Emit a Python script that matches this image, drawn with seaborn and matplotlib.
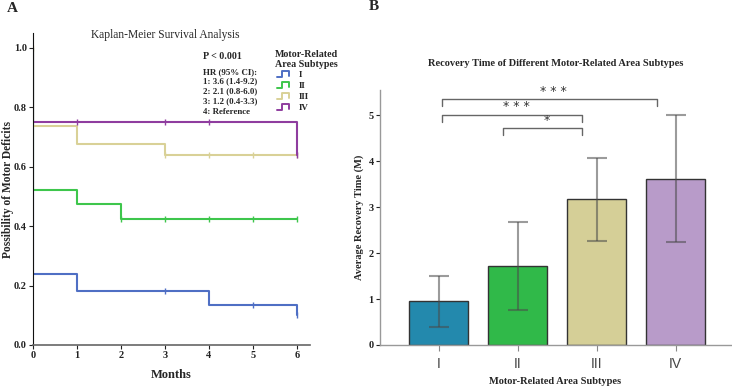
import numpy as np
import pandas as pd
import matplotlib
matplotlib.use("Agg")
import matplotlib.pyplot as plt
import seaborn as sns
from matplotlib.legend_handler import HandlerBase
from matplotlib.lines import Line2D

# Kaplan-Meier curves (step points) per subtype
km_groups = ["I", "II", "III", "IV"]
km_colors = ["#4f6fc4", "#3ec64c", "#d9d197", "#8f3d9f"]
km_times = {
    "I": [0, 0, 1, 4, 6],
    "II": [0, 0, 1, 2, 6],
    "III": [0, 0, 1, 3, 6],
    "IV": [0, 0, 6],
}
km_surv = {
    "I": [1.0, 0.24, 0.182, 0.136, 0.10],
    "II": [1.0, 0.52, 0.473, 0.425, 0.425],
    "III": [1.0, 0.737, 0.675, 0.641, 0.641],
    "IV": [1.0, 0.75, 0.641],
}
censor_times = {
    "I": [3, 5, 6],
    "II": [2, 3, 4, 5, 6],
    "III": [0, 3, 4, 5, 6],
    "IV": [1, 3, 4, 6],
}
censor_surv = {
    "I": [0.182, 0.136, 0.10],
    "II": [0.425, 0.425, 0.425, 0.425, 0.425],
    "III": [1.0, 0.641, 0.641, 0.641, 0.641],
    "IV": [0.75, 0.75, 0.75, 0.641],
}
hr_lines = ["HR (95% CI):", "1: 3.6 (1.4-9.2)", "2: 2.1 (0.8-6.0)",
            "3: 1.2 (0.4-3.3)", "4: Reference"]

# Recovery time per subtype
subtypes = ["I", "II", "III", "IV"]
recovery_mean = [0.95, 1.71, 3.17, 3.62]
recovery_low = [0.40, 0.77, 2.27, 2.25]
recovery_high = [1.51, 2.67, 4.08, 5.0]
bar_colors = ["#2389ad", "#30b949", "#d5cf97", "#b89bc9"]
# significance brackets: (x start, x end, height, label)
sig_pairs = [(0.05, 2.76, 5.35, "* * *"), (0.05, 1.81, 5.01, "* * *"), (0.82, 1.81, 4.72, "*")]

SERIF = "Liberation Serif"


class StepHandler(HandlerBase):
    def create_artists(self, legend, orig_handle, xdescent, ydescent,
                       width, height, fontsize, trans):
        xs = np.array([0.0, 0.4, 0.4, 0.9, 0.9]) * width - xdescent
        ys = np.array([0.05, 0.05, 0.95, 0.95, 0.2]) * height - ydescent
        line = Line2D(xs, ys, color=orig_handle.get_color(), lw=1.4)
        line.set_transform(trans)
        return [line]


sns.set_style("white")
plt.rcParams["font.family"] = [SERIF, "DejaVu Serif"]

fig = plt.figure(figsize=(7.32, 3.87), dpi=100)

# ---------------- Panel A ----------------
ax1 = fig.add_axes([33 / 732, 42 / 387, 277 / 732, 312 / 387])
handles = []
for grp, col in zip(km_groups, km_colors):
    df = pd.DataFrame({"t": km_times[grp], "s": km_surv[grp]})
    sns.lineplot(data=df, x="t", y="s", ax=ax1, color=col, lw=1.5,
                 drawstyle="steps-post", estimator=None, sort=False)
    cdf = pd.DataFrame({"t": censor_times[grp], "s": censor_surv[grp]})
    ax1.plot(cdf["t"], cdf["s"], ls="none", marker="|", ms=5, mew=1.0, color=col)
    handles.append(Line2D([], [], color=col))

ax1.set_xlim(0, 6.3)
ax1.set_ylim(0, 1.05)
ax1.set_xticks(range(7))
ax1.set_yticks([0, 0.2, 0.4, 0.6, 0.8, 1.0])
ax1.set_yticklabels(["0.0", "0.2", "0.4", "0.6", "0.8", "1.0"])
for lab in ax1.get_xticklabels() + ax1.get_yticklabels():
    lab.set_fontweight("bold")
ax1.tick_params(labelsize=7.5, length=3, width=0.8, pad=1.5, colors="#222")
ax1.tick_params(axis="both", which="both", bottom=True, left=True)
sns.despine(ax=ax1)
ax1.spines["left"].set_color("#111")
ax1.spines["bottom"].set_color("#666")
ax1.spines["bottom"].set_linewidth(1.2)
ax1.set_xlabel("Months", fontsize=9, fontweight="bold", labelpad=6)
ax1.set_ylabel("Possibility of Motor Deficits", fontsize=8.3, fontweight="bold")
ax1.yaxis.set_label_coords(-0.07, 0.5)
ax1.text(0.477, 0.994, "Kaplan-Meier Survival Analysis", transform=ax1.transAxes,
         fontsize=8.3, ha="center", va="center")

ax1.text(0.615, 0.924, "P < 0.001", transform=ax1.transAxes, fontsize=7.2,
         fontweight="bold", va="center")
for i, line in enumerate(hr_lines):
    ax1.text(0.615, 0.876 - i * 0.032, line, transform=ax1.transAxes, fontsize=6.4,
             fontweight="bold", va="center")

# legend title drawn separately so it can be centred over the entries
ax1.text(0.988, 0.945, "Motor-Related\nArea Subtypes", transform=ax1.transAxes,
         fontsize=7.2, fontweight="bold", ha="center", va="top", multialignment="center",
         linespacing=1.1)
leg = ax1.legend(handles, km_groups,
                 handler_map={Line2D: StepHandler()}, loc="upper left",
                 bbox_to_anchor=(0.881, 0.878), frameon=False, fontsize=6.5,
                 handlelength=1.5, handletextpad=0.9,
                 labelspacing=0.3, borderaxespad=0, borderpad=0)
for t in leg.get_texts():
    t.set_fontweight("bold")

fig.text(12 / 732, 1 - 8 / 387, "A", fontsize=11, fontweight="bold", va="center", ha="center")

# ---------------- Panel B ----------------
ax2 = fig.add_axes([380 / 732, 42 / 387, 351 / 732, 255 / 387])
bdf = pd.DataFrame({"subtype": subtypes, "mean": recovery_mean})
sns.barplot(data=bdf, x="subtype", y="mean", hue="subtype", palette=bar_colors,
            legend=False, errorbar=None, width=0.75, edgecolor="#333",
            linewidth=1.0, saturation=1, ax=ax2)
err = np.array([np.subtract(recovery_mean, recovery_low),
                np.subtract(recovery_high, recovery_mean)])
ax2.errorbar(range(len(subtypes)), recovery_mean, yerr=err, fmt="none",
             ecolor="#4a4a4a", alpha=0.55, elinewidth=1.5, capsize=7, capthick=1.5)

ax2.set_xlim(-0.74, 3.70)
ax2.set_ylim(0, 5.55)
ax2.set_yticks(range(6))
for lab in ax2.get_yticklabels():
    lab.set_fontweight("bold")
ax2.tick_params(axis="y", labelsize=7.5, length=3, width=0.8, pad=1.5, colors="#222", left=True)
ax2.tick_params(axis="x", length=4, width=0.8, pad=5, bottom=True, colors="#888")
for lab in ax2.get_xticklabels():
    lab.set_family(["Liberation Sans", "DejaVu Sans"])
    lab.set_fontsize(10)
    lab.set_color("#444")
sns.despine(ax=ax2)
for sp in ["left", "bottom"]:
    ax2.spines[sp].set_color("#999")
    ax2.spines[sp].set_linewidth(1.0)
ax2.set_xlabel("Motor-Related Area Subtypes", fontsize=7.5, fontweight="bold", labelpad=4)
ax2.set_ylabel("Average Recovery Time (M)", fontsize=7.5, fontweight="bold", labelpad=3)
ax2.set_title("Recovery Time of Different Motor-Related Area Subtypes",
              fontsize=7.5, fontweight="bold", pad=17)

for x0, x1, h, lab in sig_pairs:
    ax2.plot([x0, x0, x1, x1], [h - 0.15, h, h, h - 0.15], color="#666", lw=1.0,
             clip_on=False)
    ax2.text((x0 + x1) / 2 + 0.05, h + 0.03, lab, ha="center", va="bottom",
             fontsize=9, color="#333", family=["DejaVu Sans"])

fig.text(374 / 732, 1 - 7 / 387, "B", fontsize=11, fontweight="bold", va="center", ha="center")

fig.savefig("out.png", dpi=100)
